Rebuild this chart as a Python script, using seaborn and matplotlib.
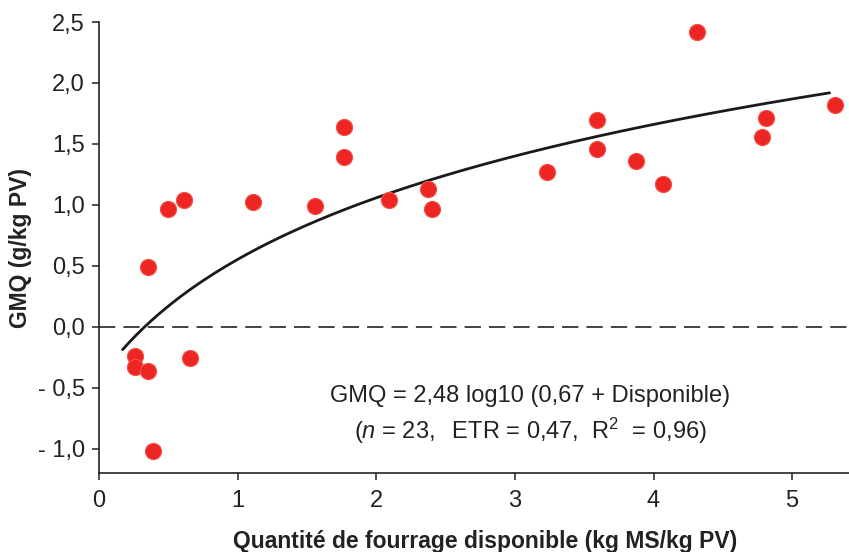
import matplotlib.pyplot as plt
import numpy as np
import pandas as pd
import seaborn as sns

# Points
disponible = [0.26, 0.26, 0.35, 0.39, 0.35, 0.50, 0.61, 0.66, 1.11, 1.56, 1.77, 1.77,
              2.09, 2.37, 2.40, 3.23, 3.59, 3.59, 3.87, 4.07, 4.31, 4.78, 4.81, 5.31]
gmq = [-0.24, -0.33, -0.36, -1.02, 0.49, 0.97, 1.04, -0.26, 1.02, 0.99, 1.64, 1.39,
       1.04, 1.13, 0.97, 1.27, 1.70, 1.46, 1.36, 1.17, 2.42, 1.56, 1.71, 1.82]

# Modèle ajusté : GMQ = a log10(b + Disponible)
coef_a = 2.48
coef_b = 0.67
x_min_courbe, x_max_courbe = 0.17, 5.27

yticks = [-1.0, -0.5, 0.0, 0.5, 1.0, 1.5, 2.0, 2.5]
ytick_labels = ["- 1,0", "- 0,5", "0,0", "0,5", "1,0", "1,5", "2,0", "2,5"]
xticks = [0, 1, 2, 3, 4, 5]

sns.set_style("ticks")
plt.rcParams['font.family'] = ['Liberation Sans', 'DejaVu Sans']
plt.rcParams['mathtext.fontset'] = 'custom'
plt.rcParams['mathtext.rm'] = 'Liberation Sans'
plt.rcParams['mathtext.it'] = 'Liberation Sans:italic'

df = pd.DataFrame({"x": disponible, "y": gmq})
xc = np.linspace(x_min_courbe, x_max_courbe, 200)
courbe = pd.DataFrame({"x": xc, "y": coef_a * np.log10(coef_b + xc)})

fig = plt.figure(figsize=(8.49, 5.52), dpi=100)
ax = fig.add_axes([0.1166, 0.1431, 0.8834, 0.817])

# ligne zéro en tirets
ax.axhline(0, color='#333333', lw=1.3, linestyle=(0, (9, 4.5)), zorder=1)

sns.lineplot(data=courbe, x="x", y="y", ax=ax, color='#1a1a1a', lw=2.0, zorder=2)
sns.scatterplot(data=df, x="x", y="y", ax=ax, s=135, color='#ED2523',
                edgecolor='#F2544B', linewidth=0.8, zorder=3)

ax.set_xlim(0, 5.41)
ax.set_ylim(-1.2, 2.5)
ax.set_xticks(xticks)
ax.set_xticklabels([str(v) for v in xticks])
ax.set_yticks(yticks)
ax.set_yticklabels(ytick_labels)

for s in ['top', 'right']:
    ax.spines[s].set_visible(False)
for s in ['left', 'bottom']:
    ax.spines[s].set_color('#222222')
    ax.spines[s].set_linewidth(1.2)

ax.tick_params(axis='both', direction='out', length=5, width=1.1, color='#222222',
               labelsize=17, labelcolor='#222222', pad=5)
ax.tick_params(axis='x', pad=7)

ax.set_xlabel("Quantité de fourrage disponible (kg MS/kg PV)", fontsize=16.5,
              fontweight='bold', color='#222222', va='center')
ax.set_ylabel("GMQ (g/kg PV)", fontsize=16.5, fontweight='bold', color='#222222',
              va='center')
ax.xaxis.set_label_coords(0.515, -0.151)
ax.yaxis.set_label_coords(-0.105, 0.5)

ax.text(3.11, -0.567, "GMQ = 2,48 log10 (0,67 + Disponible)", fontsize=17,
        ha='center', va='center', color='#222222')
ax.text(3.11, -0.855, r"($\mathit{n}$ = $\mathit{23,}$  ETR = 0,47,  R$^{2}$  = 0,96)",
        fontsize=17, ha='center', va='center', color='#222222')

plt.savefig("out.png", dpi=100, facecolor='white')
